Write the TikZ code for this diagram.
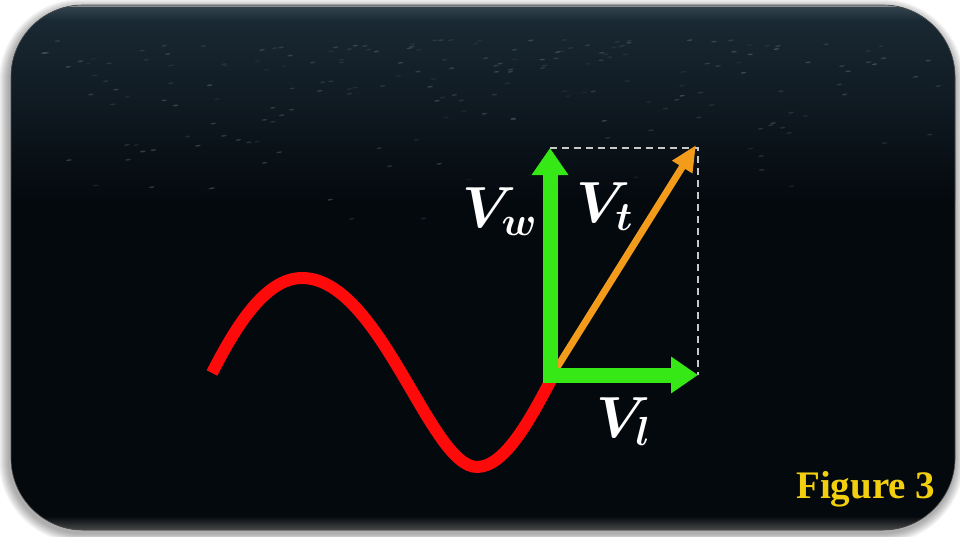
\RequirePackage{fix-cm}
\documentclass[tikz,border=0pt]{standalone}
\usepackage{fontspec}
\newfontfamily\figfont{Liberation Serif}
\usetikzlibrary{arrows.meta}
\definecolor{bgdark}{HTML}{04090E}
\definecolor{bgtop}{HTML}{1B2B36}
\definecolor{gloss}{HTML}{3A4A55}
\definecolor{streakc}{HTML}{8A9AA5}
\definecolor{vgreen}{HTML}{36E916}
\definecolor{vorange}{HTML}{F39C1B}
\definecolor{vred}{HTML}{FF0A0A}
\definecolor{figyellow}{HTML}{F2D00F}
\definecolor{dashc}{HTML}{C8C8C8}
\tikzset{
  cardshape/.style={rounded corners=72pt},
  greenarrow/.style={draw=vgreen, line width=15pt, -{Triangle[width=35pt,length=27pt]}},
  orangearrow/.style={draw=vorange, line width=7pt, -{Triangle[width=22pt,length=26pt]}},
  dashline/.style={draw=dashc, line width=1.5pt, dash pattern=on 7pt off 5pt},
  wave/.style={draw=vred, line width=12pt, line cap=butt, line join=round},
  veclabel/.style={anchor=base west, inner sep=0pt, text=white, font=\fontsize{58}{60}\selectfont\boldmath},
  figlabel/.style={anchor=base west, inner sep=0pt, text=figyellow, font=\figfont\bfseries\fontsize{39}{40}\selectfont}
}
\begin{document}
\begin{tikzpicture}[x=1pt,y=-1pt]
\useasboundingbox (0,0) rectangle (960,536);
\fill[white] (0,0) rectangle (960,536);
% soft shadow
\foreach \i in {1,...,10}{
  \pgfmathsetmacro\rr{72+\i}
  \fill[black,opacity=0.035,rounded corners=\rr pt] (11-\i-2,5-\i+4) rectangle (955+\i-1,530+\i+3);
}
\begin{scope}
  \clip[cardshape] (11,5) rectangle (955,530);
  \fill[bgdark] (0,0) rectangle (960,536);
  \shade[top color=bgtop, bottom color=bgdark] (0,5) rectangle (960,200);
  \shade[top color=gloss, bottom color=bgtop, opacity=0.8] (0,7) rectangle (960,20);
  \draw[gray!70, line width=1.5pt, opacity=0.8] (0,5.8) -- (960,5.8);
  \shade[top color=bgdark, bottom color=gray!60!black] (0,516) rectangle (960,531);
  % faint texture
  \pgfmathsetseed{7}
  \foreach \k in {1,...,200}{
    \pgfmathsetmacro\tx{40+900*rnd}
    \pgfmathsetmacro\ty{40+200*rnd*rnd}
    \pgfmathsetmacro\op{0.08+0.25*rnd}
    \fill[streakc, opacity=\op, rotate around={8:(\tx,\ty)}] (\tx,\ty) ellipse (2.8 and 0.8);
  }
\end{scope}
\draw[black!70, line width=0.6pt, cardshape] (11,5) rectangle (955,530);
% vector diagram
\coordinate (Obot) at (550,382);
\coordinate (Oleft) at (543,375);
\coordinate (Wtip) at (550,148);
\coordinate (Ltip) at (698,375);
\coordinate (Tstart) at (556,369);
\coordinate (Ttip) at (696,145);
\coordinate (D) at (698,148);
\coordinate (Wstart) at (212,373);
\coordinate (Wpeak) at (302,278);
\coordinate (Wtrough) at (477,467);
\coordinate (Wend) at (553,376);
\draw[wave] (Wstart) .. controls (235,328) and (265,278) .. (Wpeak)
  .. controls (380,278) and (430,467) .. (Wtrough)
  .. controls (505,467) and (531,418) .. (Wend);
\draw[dashline] (Wtip) -- (D) -- (Ltip);
\draw[orangearrow] (Tstart) -- (Ttip);
\draw[greenarrow] (Obot) -- (Wtip);
\draw[greenarrow] (Oleft) -- (Ltip);
\node[veclabel] (vw) at (462,227) {$V_w$};
\node[veclabel] (vt) at (576,222) {$V_t$};
\node[veclabel] (vl) at (596,437) {$V_l$};
\node[figlabel] (fig) at (796,498) {Figure 3};
\end{tikzpicture}
\end{document}
